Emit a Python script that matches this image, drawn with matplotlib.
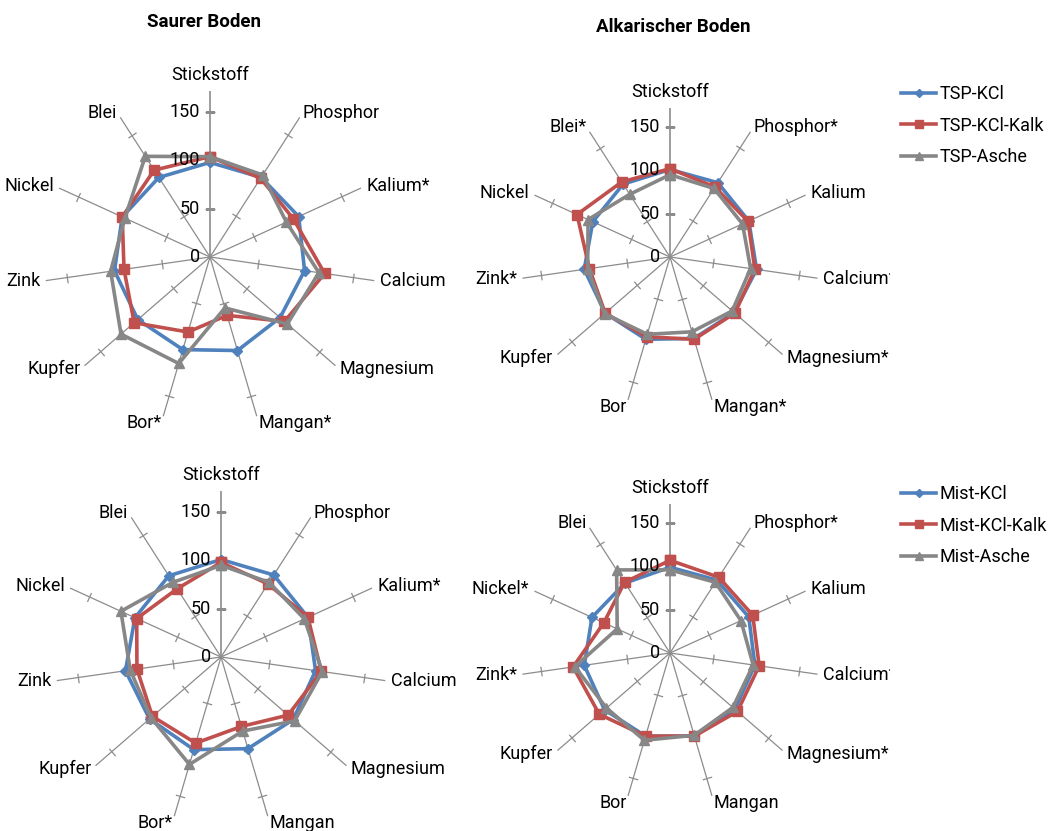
import numpy as np
import matplotlib
matplotlib.use('Agg')
import matplotlib.pyplot as plt
from matplotlib.transforms import Bbox

plt.rcParams['font.family'] = ['Roboto', 'DejaVu Sans']

# Beschriftungen der Achsen (* = signifikant)
labels_sauer_tsp = ['Stickstoff', 'Phosphor', 'Kalium*', 'Calcium', 'Magnesium', 'Mangan*',
                    'Bor*', 'Kupfer', 'Zink', 'Nickel', 'Blei']
labels_alk_tsp = ['Stickstoff', 'Phosphor*', 'Kalium', 'Calcium*', 'Magnesium*', 'Mangan*',
                  'Bor', 'Kupfer', 'Zink*', 'Nickel', 'Blei*']
labels_sauer_mist = ['Stickstoff', 'Phosphor', 'Kalium*', 'Calcium', 'Magnesium', 'Mangan',
                     'Bor*', 'Kupfer', 'Zink', 'Nickel', 'Blei']
labels_alk_mist = ['Stickstoff', 'Phosphor*', 'Kalium', 'Calcium*', 'Magnesium*', 'Mangan',
                   'Bor', 'Kupfer', 'Zink*', 'Nickel*', 'Blei']

# Werte (relativ)
tsp_kcl_sauer = [98, 98, 101, 99, 96, 101, 100, 99, 100, 100, 98]
tsp_kalk_sauer = [104, 97, 95, 120, 102, 63, 81, 104, 90, 100, 107]
tsp_asche_sauer = [104, 101, 87, 114, 106, 55, 115, 122, 104, 97, 124]

tsp_kcl_alk = [101, 102, 100, 101, 98, 98, 99, 99, 100, 98, 100]
tsp_kalk_alk = [102, 96, 99, 99, 99, 99, 96, 99, 94, 118, 103]
tsp_asche_alk = [95, 94, 92, 94, 95, 90, 93, 100, 96, 104, 86]

mist_kcl_sauer = [101, 101, 99, 99, 99, 99, 100, 98, 100, 98, 100]
mist_kalk_sauer = [98, 90, 99, 105, 92, 75, 93, 94, 88, 96, 84]
mist_asche_sauer = [95, 92, 95, 106, 101, 80, 116, 96, 95, 114, 92]

mist_kcl_alk = [99, 100, 100, 99, 99, 100, 100, 100, 100, 99, 96]
mist_kalk_alk = [107, 104, 105, 104, 103, 100, 100, 108, 113, 84, 97]
mist_asche_alk = [96, 97, 90, 97, 96, 99, 105, 97, 111, 67, 114]

r_ticks = [0, 50, 100, 150]
r_max = 172

farben = ['#4F81BD', '#C0504D', '#878787']
marker = ['D', 's', '^']
msize = [5.5, 7, 7.5]
fs = 13

W, H = 1049, 831
fig = plt.figure(figsize=(W / 100, H / 100), dpi=100)


def radar(cx, cy, rad, labels, reihen, namen):
    # cx, cy, rad in Pixel
    ax = fig.add_axes([(cx - rad) / W, (H - cy - rad) / H, 2 * rad / W, 2 * rad / H],
                      projection='polar')
    ax.set_theta_zero_location('N')
    ax.set_theta_direction(-1)
    ax.set_ylim(0, r_max)
    ax.grid(False)
    ax.spines['polar'].set_visible(False)
    ax.set_xticks([])
    ax.set_yticks([])
    ax.patch.set_alpha(0)

    n = len(labels)
    winkel = np.arange(n) * 2 * np.pi / n
    # Speichen mit Teilstrichen
    for i, w in enumerate(winkel):
        lw = 1.2 if i == 0 else 0.9
        ax.plot([w, w], [0, r_max], color='#8c8c8c', lw=lw, zorder=1)
        rot = 90 - np.degrees(w)
        ticks = r_ticks[1:]
        ax.plot([w] * len(ticks), ticks, ls='none', marker=(2, 0, rot),
                ms=7, mec='#8c8c8c', mew=0.9, zorder=1)
        s, c = np.sin(w), np.cos(w)
        ha = 'left' if s > 0.1 else ('right' if s < -0.1 else 'center')
        va = 'bottom' if abs(s) < 0.1 else 'center'
        dx = 4 * s
        dy = 4 * c if abs(s) >= 0.1 else 5
        if c < -0.8:
            dy = -5
        t = ax.annotate(labels[i], (w, r_max), xytext=(dx, dy), textcoords='offset points',
                        ha=ha, va=va, fontsize=fs, annotation_clip=False)
        # Diagrammbereich schneidet rechte Beschriftung ab (wie im Original)
        t.set_clip_box(Bbox.from_extents(0, 0, 890, H))
        t.set_clip_on(True)

    for v in r_ticks:
        ax.annotate(str(v), (0, v), xytext=(-7, 0), textcoords='offset points',
                    ha='right', va='center', fontsize=fs, annotation_clip=False,
                    zorder=10)

    w_zu = np.append(winkel, winkel[0])
    linien = []
    for k, werte in enumerate(reihen):
        wz = np.append(werte, werte[0])
        l, = ax.plot(w_zu, wz, color=farben[k], lw=2.6, marker=marker[k], ms=msize[k],
                     mfc=farben[k], mec=farben[k], zorder=3 + k, label=namen[k],
                     clip_on=False)
        linien.append(l)
    return ax, linien


ax1, l1 = radar(210, 257, 166, labels_sauer_tsp,
                [tsp_kcl_sauer, tsp_kalk_sauer, tsp_asche_sauer],
                ['TSP-KCl', 'TSP-KCl-Kalk', 'TSP-Asche'])
ax2, l2 = radar(670, 257, 149, labels_alk_tsp,
                [tsp_kcl_alk, tsp_kalk_alk, tsp_asche_alk],
                ['TSP-KCl', 'TSP-KCl-Kalk', 'TSP-Asche'])
ax3, l3 = radar(221, 657, 166, labels_sauer_mist,
                [mist_kcl_sauer, mist_kalk_sauer, mist_asche_sauer],
                ['Mist-KCl', 'Mist-KCl-Kalk', 'Mist-Asche'])
ax4, l4 = radar(670, 653, 149, labels_alk_mist,
                [mist_kcl_alk, mist_kalk_alk, mist_asche_alk],
                ['Mist-KCl', 'Mist-KCl-Kalk', 'Mist-Asche'])

fig.text(204 / W, 1 - 22 / H, 'Saurer Boden', ha='center', va='center',
         fontsize=13.5, fontweight='bold')
fig.text(673 / W, 1 - 27 / H, 'Alkarischer Boden', ha='center', va='center',
         fontsize=13.5, fontweight='bold')

for linien, y in [(l1, 85), (l3, 485)]:
    fig.legend(handles=linien, loc='upper left', bbox_to_anchor=(901 / W, 1 - y / H),
               frameon=False, fontsize=fs, handlelength=1.95, handletextpad=0.2,
               labelspacing=0.75, markerscale=0.8, borderpad=0, borderaxespad=0)

fig.savefig('out.png', dpi=100)
